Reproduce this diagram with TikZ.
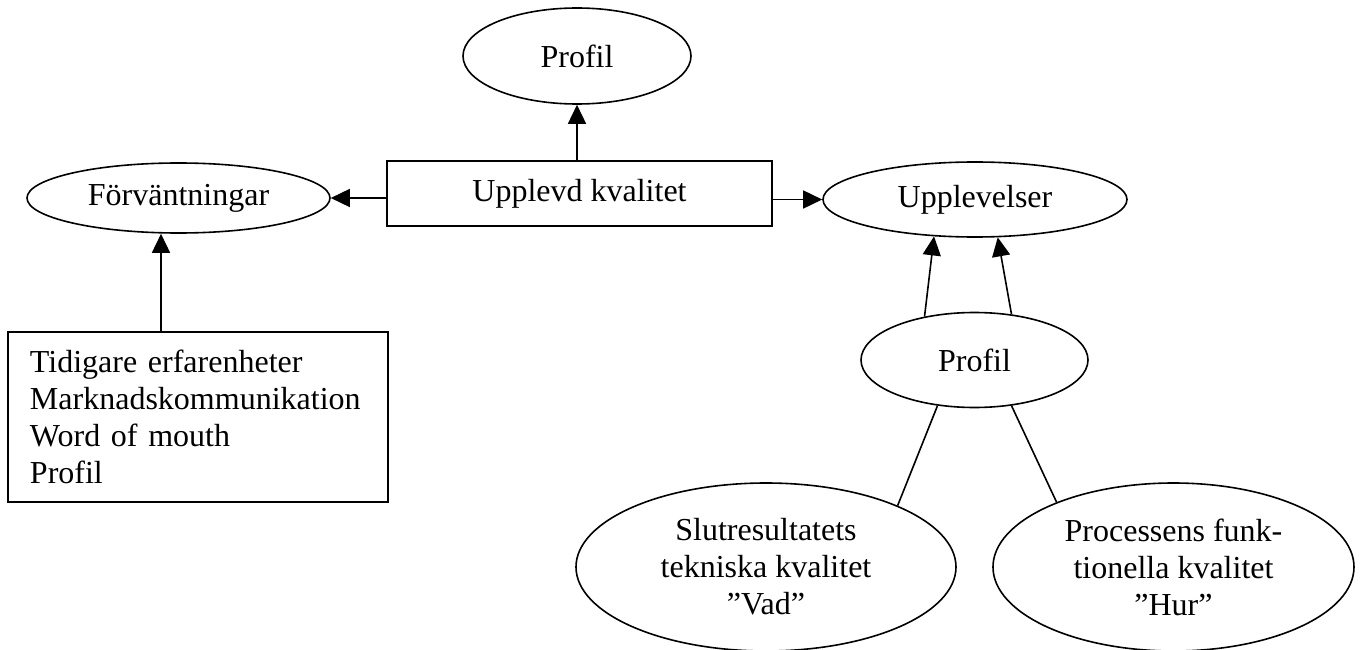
\documentclass[tikz,border=0pt]{standalone}
\usepackage{fontspec}
\setmainfont{Liberation Serif}
\usetikzlibrary{shapes.geometric,arrows.meta}
\begin{document}
\begin{tikzpicture}[x=1pt,y=-1pt,
  every node/.style={font=\fontsize{32}{37}\selectfont, inner sep=0pt, line width=1.6pt},
  oval/.style={draw, ellipse, align=center},
  box/.style={draw, rectangle},
  arr/.style={line width=1.6pt, -{Triangle[length=19pt,width=18pt]}},
  link/.style={line width=1.6pt}]
\useasboundingbox (0,0) rectangle (1361,650);

% nodes
\node[oval, minimum width=228pt, minimum height=96pt] (prof1) at (577,56) {Profil};
\node[box, minimum width=385pt, minimum height=65pt] (kval) at (579.5,193.5) {Upplevd kvalitet};
\node[oval, minimum width=303pt, minimum height=70pt] (forv) at (178.5,198) {Förväntningar};
\node[oval, minimum width=304pt, minimum height=75pt] (uppl) at (975,199.5) {Upplevelser};
\node[box, minimum width=380pt, minimum height=170pt, text width=336pt, align=left] (fakt) at (198,417)
  {Tidigare erfarenheter\\Marknadskommunikation\\Word of mouth\\Profil};
\node[oval, minimum width=227pt, minimum height=95pt] (prof2) at (974.5,360) {Profil};
\node[oval, minimum width=380pt, minimum height=168pt] (slut) at (766,567)
  {Slutresultatets\\tekniska kvalitet\\”Vad”};
\node[oval, minimum width=361pt, minimum height=168pt] (proc) at (1173.5,567)
  {Processens funk-\\tionella kvalitet\\”Hur”};

% connectors
\draw[arr] (prof1.south |- kval.north) -- (prof1.south);
\draw[arr] (kval.west |- forv.east) -- (forv.east);
\draw[arr] (kval.east |- uppl.west) -- (uppl.west);
\draw[arr] ([xshift=-17.5pt]forv.south |- fakt.north) -- ([xshift=-17.5pt]forv.south);
\draw[arr] (prof2.139) -- (uppl.222);
\draw[arr] (prof2.51) -- (uppl.301);
\draw[link] (prof2.231) -- (slut.25);
\draw[link] (prof2.309) -- (proc.151);
\end{tikzpicture}
\end{document}
